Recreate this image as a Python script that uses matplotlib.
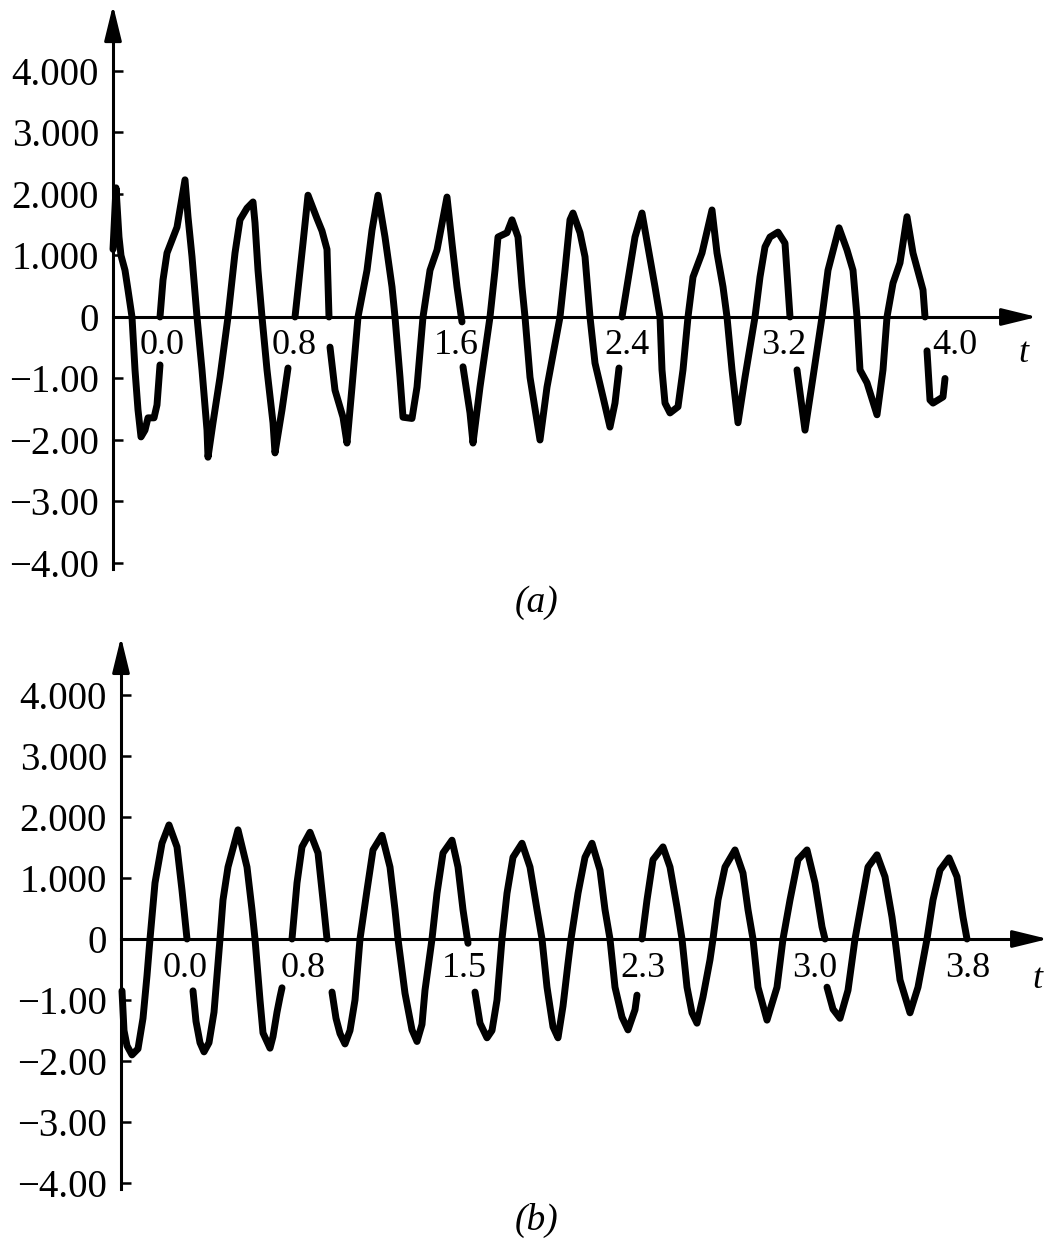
import numpy as np
import matplotlib
matplotlib.use("Agg")
import matplotlib.pyplot as plt

nan = np.nan

# ---- panel (a): scope trace, x = sample index, v = amplitude -------------
n_a = [0, 3, 6, 8, 12, 15, 19, 22, 25, 28, 32, 35, 41, 44, 47, nan,
       47, 50, 54, 64, 72, 75, 79, 84, 89, 94, 95, 100, 107, 115, 122, 127,
       134, 140, 142, 145, 149, 154, 160, 162, 169, 175, nan,
       182, 190, 195, 204, 209, 214, 216, nan,
       217, 222, 230, 234, 239, 245, 254, 259, 265, 272, 279, 282, 287, 290,
       299, 304, 310, 317, 324, 334, 339, 344, 349, nan,
       350, 357, 360, 367, 377, 382, 385, 394, 399, 405, 409, 412, 417, 427,
       434, 447, 452, 457, 460, 467, 472, 477, 482, 490, 497, 502, 506, nan,
       509, 515, 522, 529, 535, 542, 547, 549, 552, 557, 565, 570, 575, 580,
       589, 599, 604, 610, 614, 619, 625, 632, 642, 647, 652, 657, 665, 672,
       675, 677, nan,
       684, 692, 700, 709, 715, 726, 734, 740, 744, 747, 754, 764, 770, 774,
       780, 787, 794, 800, 810, 812, nan,
       814, 817, 820, 830, 832]
v_a = [1.1, 2.1, 1.3, 1.0, 0.76, 0.44, 0.0, -0.86, -1.51, -1.95, -1.84, -1.64, -1.64, -1.43, -0.78, nan,
       0.0, 0.6, 1.04, 1.46, 2.23, 1.63, 0.98, 0.0, -0.86, -1.84, -2.28, -1.72, -0.98, 0.0, 1.04, 1.58,
       1.77, 1.87, 1.53, 0.76, 0.0, -0.86, -1.72, -2.21, -1.51, -0.83, nan,
       0.0, 1.2, 1.98, 1.6, 1.4, 1.1, 0.0, nan,
       -0.49, -1.19, -1.63, -2.05, -1.14, 0.0, 0.76, 1.41, 1.98, 1.3, 0.49, 0.0, -0.98, -1.63,
       -1.65, -1.14, 0.0, 0.76, 1.09, 1.95, 1.2, 0.49, -0.08, nan,
       -0.81, -1.56, -2.05, -1.14, 0.0, 0.76, 1.3, 1.37, 1.58, 1.3, 0.49, 0.0, -0.98, -2.0,
       -1.14, 0.0, 0.76, 1.58, 1.69, 1.37, 0.98, 0.0, -0.75, -1.3, -1.79, -1.4, -0.83, nan,
       0.0, 0.6, 1.3, 1.69, 1.14, 0.49, 0.0, -0.86, -1.4, -1.56, -1.46, -0.86, 0.0, 0.65,
       1.04, 1.74, 1.04, 0.49, 0.0, -0.86, -1.72, -0.98, 0.0, 0.65, 1.14, 1.3, 1.38, 1.2,
       0.49, 0.0, nan,
       -0.86, -1.84, -0.98, 0.0, 0.76, 1.45, 1.09, 0.76, 0.0, -0.86, -1.07, -1.59, -0.86, 0.0,
       0.55, 0.88, 1.63, 1.04, 0.44, 0.0, nan,
       -0.55, -1.35, -1.4, -1.3, -1.0]

tick_pos_a = [49, 181, 343, 514, 671, 842]
tick_lab_a = ["0.0", "0.8", "1.6", "2.4", "3.2", "4.0"]

# ---- panel (b) ------------------------------------------------------------
n_b = [1, 3, 6, 11, 17, 22, 26, 29, 34, 41, 48, 56, 61, 66, nan,
       72, 75, 79, 83, 88, 93, 96, 99, 102, 107, 117, 126, 131, 134, 139, 142,
       149, 152, 156, 159, 161, nan,
       171, 176, 181, 189, 197, 202, 206, nan,
       211, 215, 219, 224, 229, 234, 239, 246, 252, 261, 269, 274, 277, 284,
       291, 296, 301, 304, 311, 316, 322, 331, 337, 342, 347, nan,
       354, 359, 366, 371, 376, 381, 386, 392, 401, 409, 416, 421, 426, 432,
       437, 442, 447, 450, 457, 464, 471, 479, 484, 489, 494, 501, 507, 514,
       516, nan,
       521, 526, 532, 542, 549, 556, 561, 566, 571, 576, 582, 589, 592, 597,
       604, 614, 622, 627, 632, 637, 646, 656, 662, 669, 677, 686, 694, 701,
       704, nan,
       706, 712, 719, 727, 734, 741, 747, 756, 764, 771, 774, 779, 789, 797,
       806, 812, 819, 828, 836, 842, 846]
v_b = [-0.85, -1.5, -1.75, -1.9, -1.8, -1.3, -0.6, 0.0, 0.92, 1.57, 1.87, 1.51, 0.8, 0.0, nan,
       -0.85, -1.35, -1.7, -1.85, -1.7, -1.2, -0.6, 0.0, 0.64, 1.18, 1.79, 1.18, 0.48, 0.0, -1.0, -1.54,
       -1.79, -1.6, -1.2, -0.95, -0.8, nan,
       0.0, 0.92, 1.51, 1.75, 1.41, 0.64, 0.0, nan,
       -0.87, -1.3, -1.55, -1.72, -1.5, -1.0, 0.0, 0.8, 1.46, 1.7, 1.18, 0.48, 0.0, -0.89,
       -1.49, -1.68, -1.4, -0.84, 0.0, 0.75, 1.41, 1.62, 1.18, 0.48, -0.07, nan,
       -0.87, -1.38, -1.62, -1.5, -1.0, 0.0, 0.75, 1.34, 1.57, 1.18, 0.48, 0.0, -0.79, -1.44,
       -1.62, -1.1, -0.4, 0.0, 0.75, 1.34, 1.57, 1.13, 0.48, 0.0, -0.79, -1.28, -1.49, -1.16,
       -0.92, nan,
       0.0, 0.64, 1.3, 1.51, 1.18, 0.52, 0.0, -0.79, -1.21, -1.38, -0.95, -0.34, 0.0, 0.64,
       1.18, 1.46, 1.08, 0.48, 0.0, -0.79, -1.33, -0.79, 0.0, 0.64, 1.3, 1.46, 0.92, 0.2,
       0.0, nan,
       -0.79, -1.15, -1.3, -0.84, 0.0, 0.64, 1.18, 1.38, 1.02, 0.36, 0.0, -0.67, -1.21, -0.79,
       0.0, 0.64, 1.13, 1.33, 1.02, 0.36, 0.0]

tick_pos_b = [64, 182, 343, 522, 694, 847]
tick_lab_b = ["0.0", "0.8", "1.5", "2.3", "3.0", "3.8"]

y_ticks = [4, 3, 2, 1, 0, -1, -2, -3, -4]
y_labs = ["4.000", "3.000", "2.000", "1.000", "0",
          "\u22121.00", "\u22122.00", "\u22123.00", "\u22124.00"]

SERIF = ["Liberation Serif", "DejaVu Serif"]
plt.rcParams["font.family"] = SERIF


def draw_panel(ax, n, v, tpos, tlab, xlim, ylim, ytop, xtip, caption, cap_xy, t_xy):
    ax.set_xlim(*xlim)
    ax.set_ylim(*ylim)
    ax.patch.set_alpha(0)
    for s in ("top", "right"):
        ax.spines[s].set_visible(False)
    ax.spines["left"].set_position(("data", 0))
    ax.spines["bottom"].set_position(("data", 0))
    ax.spines["left"].set_bounds(-4.1, ytop - 0.4)
    ax.spines["bottom"].set_bounds(0, xtip - 20)
    for s in ("left", "bottom"):
        ax.spines[s].set_linewidth(2.2)

    # arrow heads
    arr = dict(arrowstyle="-|>,head_length=0.9,head_width=0.22", color="k",
               lw=2.2, mutation_scale=24, shrinkA=0, shrinkB=0)
    ax.annotate("", xy=(0, ytop), xytext=(0, ytop - 0.5), arrowprops=arr,
                annotation_clip=False)
    ax.annotate("", xy=(xtip, 0), xytext=(xtip - 30, 0), arrowprops=arr,
                annotation_clip=False)

    ax.set_yticks(y_ticks, labels=y_labs)
    ax.tick_params(axis="y", direction="in", length=7, width=1.8, pad=10,
                   labelsize=28)
    ax.set_xticks(tpos, labels=tlab)
    ax.tick_params(axis="x", length=0, pad=9, labelsize=26)

    ax.plot(n, v, color="k", lw=5.0, solid_capstyle="round",
            solid_joinstyle="round", clip_on=False)

    ax.text(*t_xy, "t", fontsize=26, style="italic", ha="center", va="center")
    ax.text(*cap_xy, caption, fontsize=27, style="italic", ha="center", va="center")


fig = plt.figure(figsize=(10.62, 12.51), dpi=100)

ax_a = fig.add_axes([0, 1 - 620 / 1251, 1, 620 / 1251])
draw_panel(ax_a, n_a, v_a, tick_pos_a, tick_lab_a,
           (-113, 949), (-4.927, 5.154), 5.07, 924,
           "(a)", (424, -4.65), (910, -0.6))

ax_b = fig.add_axes([0, 0, 1, 631 / 1251])
draw_panel(ax_b, n_b, v_b, tick_pos_b, tick_lab_b,
           (-121, 941), (-5.115, 5.23), 4.95, 927,
           "(b)", (416, -4.61), (916, -0.67))

fig.savefig("out.png", dpi=100, facecolor="white")
